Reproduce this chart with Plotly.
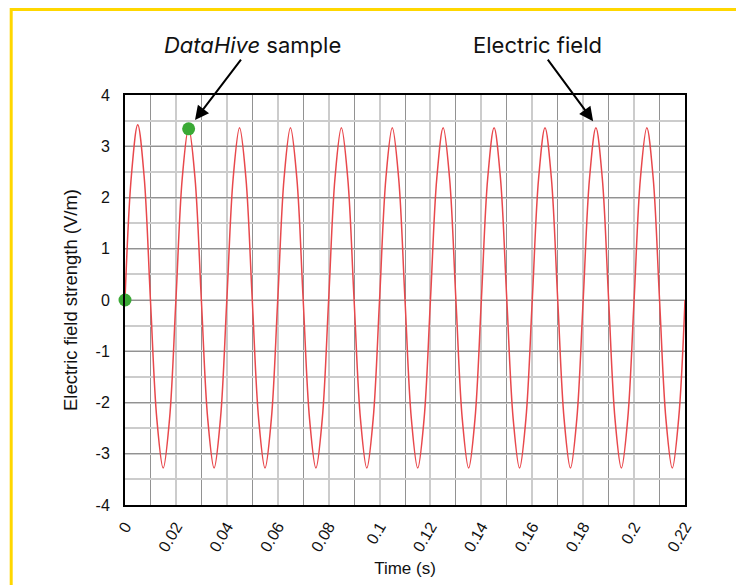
import numpy as np
import plotly.graph_objects as go

# Electric field readings (V/m), read every 0.0025 s from the picture
field_values = [
    0, 2.42, 3.42, 2.42, 0, -2.32, -3.28, -2.32,
    0, 2.38, 3.36, 2.38, 0, -2.32, -3.28, -2.32,
    0, 2.38, 3.36, 2.38, 0, -2.32, -3.28, -2.32,
    0, 2.38, 3.36, 2.38, 0, -2.32, -3.28, -2.32,
    0, 2.38, 3.36, 2.38, 0, -2.32, -3.28, -2.32,
    0, 2.38, 3.36, 2.38, 0, -2.32, -3.28, -2.32,
    0, 2.38, 3.36, 2.38, 0, -2.32, -3.28, -2.32,
    0, 2.38, 3.36, 2.38, 0, -2.32, -3.28, -2.32,
    0, 2.38, 3.36, 2.38, 0, -2.32, -3.28, -2.32,
    0, 2.38, 3.36, 2.38, 0, -2.32, -3.28, -2.32,
    0, 2.38, 3.36, 2.38, 0, -2.32, -3.28, -2.32,
    0,
]
sample_step = 0.0025
field_times = [round(i * sample_step, 4) for i in range(len(field_values))]

# DataHive samples
sample_times = [0, 0.025]
sample_values = [0, 3.34]

x_ticks = [0, 0.02, 0.04, 0.06, 0.08, 0.1, 0.12, 0.14, 0.16, 0.18, 0.2, 0.22]
x_tick_labels = ["0", "0.02", "0.04", "0.06", "0.08", "0.1", "0.12", "0.14", "0.16", "0.18", "0.2", "0.22"]
y_ticks = [-4, -3, -2, -1, 0, 1, 2, 3, 4]
y_tick_labels = ["-4", "-3", "-2", "-1", "0", "1", "2", "3", "4"]

fig = go.Figure()
fig.add_trace(go.Scatter(
    x=field_times, y=field_values, mode="lines",
    line=dict(color="#e8484c", width=1.5, shape="spline", smoothing=1.0),
    showlegend=False, hoverinfo="skip",
))
fig.add_trace(go.Scatter(
    x=sample_times, y=sample_values, mode="markers",
    marker=dict(color="#3aa935", size=13),
    cliponaxis=False, showlegend=False,
))

tick_font = dict(family="Liberation Sans, Arial, sans-serif", size=16, color="#111")
title_font = dict(family="Liberation Sans, Arial, sans-serif", size=17, color="#111")
ytitle_font = dict(family="Liberation Sans, Arial, sans-serif", size=18.5, color="#111")
ann_font = dict(family="Inter, Lato, sans-serif", size=22, color="#111")

fig.update_layout(
    width=744, height=585,
    margin=dict(l=117, r=67, t=87, b=88),
    paper_bgcolor="white", plot_bgcolor="white",
    xaxis=dict(
        range=[0, 0.22], tickvals=x_ticks, ticktext=x_tick_labels,
        tickangle=-60, tickfont=tick_font, ticklabelstandoff=4,
        title=dict(text="Time (s)", font=title_font, standoff=8),
        showgrid=True, gridcolor="#cccccc", gridwidth=2,
        minor=dict(dtick=0.01, showgrid=True, gridcolor="#929292", gridwidth=1),
        showline=True, linecolor="black", linewidth=2, mirror=True,
        zeroline=False, ticks="",
    ),
    yaxis=dict(
        range=[-4, 4], tickvals=y_ticks, ticktext=y_tick_labels,
        tickfont=tick_font, ticklabelstandoff=10,
        title=dict(text="Electric field strength (V/m)", font=ytitle_font, standoff=13),
        showgrid=True, gridcolor="#929292", gridwidth=1,
        minor=dict(dtick=0.5, showgrid=True, gridcolor="#cccccc", gridwidth=2),
        showline=True, linecolor="black", linewidth=2, mirror=True,
        zeroline=False, ticks="",
    ),
    annotations=[
        dict(x=0.0275, y=3.51, xref="x", yref="y", text="<i>DataHive</i> sample",
             ax=57, ay=-75, showarrow=True, arrowhead=2, arrowsize=1.4,
             arrowwidth=2, arrowcolor="black", font=ann_font),
        dict(x=0.1839, y=3.49, xref="x", yref="y", text="Electric field",
             ax=-56, ay=-76, showarrow=True, arrowhead=2, arrowsize=1.4,
             arrowwidth=2, arrowcolor="black", font=ann_font),
    ],
    shapes=[
        dict(type="line", xref="paper", yref="paper",
             x0=(11 - 125) / 560, x1=(760 - 125) / 560,
             y0=(505 - 9.5) / 410, y1=(505 - 9.5) / 410,
             line=dict(color="#ffd700", width=3), layer="above"),
        dict(type="line", xref="paper", yref="paper",
             x0=(11.2 - 125) / 560, x1=(11.2 - 125) / 560,
             y0=(505 - 8) / 410, y1=(505 - 620) / 410,
             line=dict(color="#ffd700", width=3), layer="above"),
    ],
)

fig.write_html("out.html")
